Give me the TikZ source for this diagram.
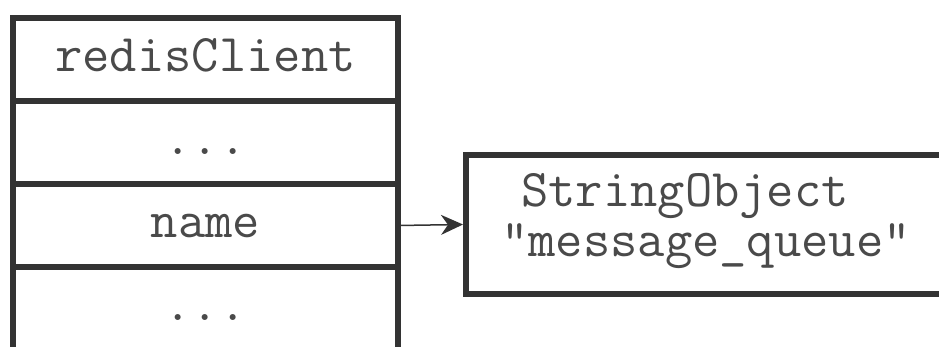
\documentclass[tikz,border=0pt]{standalone}
\usepackage{fontspec}
\usetikzlibrary{arrows.meta,positioning}
\definecolor{Ink}{HTML}{333333}
\definecolor{TextGrey}{HTML}{4A4A4A}
\tikzset{
 field/.style={draw=Ink, line width=6pt, outer sep=0pt, minimum width=385pt, minimum height=83pt, inner sep=0pt, text height=32pt, text depth=8pt, text=TextGrey, font=\fontsize{53}{50}\selectfont\ttfamily},
 objbox/.style={draw=Ink, line width=6pt, minimum width=480pt, minimum height=139pt, inner sep=0pt, align=left, text=TextGrey, font=\fontsize{53}{50}\selectfont\ttfamily},
 pointer/.style={-{Stealth[length=22pt,width=20pt,inset=7pt]}, line width=1.5pt, draw=Ink}
}
\begin{document}
\begin{tikzpicture}[x=1pt,y=-1pt,node distance=0pt]
\useasboundingbox (0,0) rectangle (939,347);
\clip (0,0) rectangle (939,347);
\fill[white] (0,0) rectangle (939,347);
% redisClient structure
\node[field] (client) at (205.5,59.5) {redisClient};
\node[field,below=of client] (dots1) {...};
\node[field,below=of dots1] (name) {name};
\node[field,below=of name] (dots2) {...};
% string object
\node[objbox] (strobj) at (706,224.5) {\hspace*{20pt}StringObject\\"message\_queue"\rule[-20pt]{0pt}{0pt}};
\draw[pointer] (name.east) -- (strobj.west);
\end{tikzpicture}
\end{document}
